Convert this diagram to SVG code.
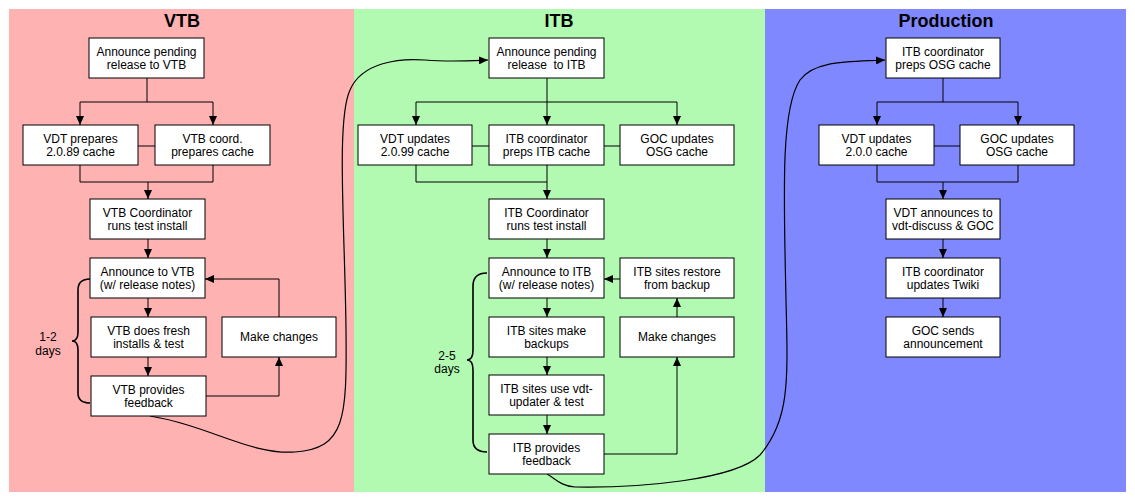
<svg xmlns="http://www.w3.org/2000/svg" width="1135" height="502" viewBox="0 0 1135 502">
<style>
.bx{fill:#fff;stroke:#000;stroke-width:1}
.t{font-family:"Liberation Sans",Arial,sans-serif;font-size:12px;fill:#000;text-anchor:middle}
.h{font-family:"Liberation Sans",Arial,sans-serif;font-size:18px;font-weight:bold;fill:#000;text-anchor:middle}
.ln{fill:none;stroke:#000;stroke-width:1}
.ar{fill:none;stroke:#000;stroke-width:1;marker-end:url(#ah)}
.cv{fill:none;stroke:#000;stroke-width:1.2;marker-end:url(#ah)}
.br{fill:none;stroke:#000;stroke-width:1.6}
</style>
<defs>
<marker id="ah" markerUnits="userSpaceOnUse" markerWidth="10" markerHeight="8" refX="9" refY="4" orient="auto">
<path d="M0,0 L9,4 L0,8 z" fill="#000"/>
</marker>
</defs>
<rect width="1135" height="502" fill="#fff"/>
<g id="lanes">
<rect x="9" y="9" width="345" height="483" fill="#ffb2b2"/>
<rect x="354" y="9" width="411" height="483" fill="#b2fab2"/>
<rect x="765" y="9" width="361" height="483" fill="#8088ff"/>
<text class="h" x="182" y="27">VTB</text>
<text class="h" x="559" y="27">ITB</text>
<text class="h" x="946" y="27">Production</text>
</g>
<g id="connectors">
<!-- VTB -->
<path class="ln" d="M147,78 V102 M80,102 H213"/>
<path class="ar" d="M80,102 V125"/>
<path class="ar" d="M213,102 V125"/>
<path class="ln" d="M138,146 H155"/>
<path class="ln" d="M80,165 V182 H213 V165"/>
<path class="ar" d="M148,182 V199"/>
<path class="ar" d="M148,239 V258"/>
<path class="ar" d="M148,298 V317"/>
<path class="ar" d="M148,357 V376"/>
<path class="ar" d="M206,396 H279 V357"/>
<path class="ar" d="M279,317 V279 H205"/>
<path class="br" d="M90,279 C82,279 78,282 78,290 L78,332 C78,338 76,341 72,341 C76,341 78,344 78,350 L78,393 C78,400 82,403 90,403"/>
<text class="t" x="48" y="341">1-2</text>
<text class="t" x="48" y="355">days</text>
<path class="cv" d="M150,416 C210,426 250,455 295,452 C345,448 347,420 346,330 C345,230 336,120 350,90 C362,62 400,58 425,60 C450,62 465,61 488,60"/>
<!-- ITB -->
<path class="ln" d="M547,78 V102 M416,102 H677"/>
<path class="ar" d="M416,102 V125"/>
<path class="ar" d="M547,102 V125"/>
<path class="ar" d="M677,102 V125"/>
<path class="ln" d="M472,146 H489 M604,146 H620"/>
<path class="ln" d="M416,165 V182 H547"/>
<path class="ar" d="M547,165 V199"/>
<path class="ar" d="M547,239 V258"/>
<path class="ar" d="M620,279 H604"/>
<path class="ar" d="M677,317 V298"/>
<path class="ar" d="M547,298 V317"/>
<path class="ar" d="M547,357 V375"/>
<path class="ar" d="M547,415 V434"/>
<path class="ar" d="M604,454 H677 V357"/>
<path class="br" d="M487,273 C479,273 473,276 473,286 L473,350 C473,357 471,360 467,360 C471,360 473,363 473,370 L473,440 C473,449 479,452 487,452"/>
<text class="t" x="447" y="360">2-5</text>
<text class="t" x="447" y="373">days</text>
<path class="cv" d="M547,474 C555,478 560,486 575,487 C640,488 735,480 760,455 C790,420 788,380 786,300 C784,200 780,110 800,80 C815,60 850,62 885,60"/>
<!-- Production -->
<path class="ln" d="M943,78 V102 M877,102 H1018"/>
<path class="ar" d="M877,102 V125"/>
<path class="ar" d="M1018,102 V125"/>
<path class="ln" d="M934,146 H960"/>
<path class="ln" d="M877,165 V182 H1018 V165"/>
<path class="ar" d="M943,182 V199"/>
<path class="ar" d="M943,239 V258"/>
<path class="ar" d="M943,298 V317"/>
</g>
<g id="v1"><rect class="bx" x="89" y="38" width="115" height="40"/><text class="t" x="146.5" y="55.5">Announce pending</text><text class="t" x="146.5" y="69">release to VTB</text></g>
<g id="v2"><rect class="bx" x="23" y="125" width="115" height="40"/><text class="t" x="80.5" y="142.5">VDT prepares</text><text class="t" x="80.5" y="156">2.0.89 cache</text></g>
<g id="v3"><rect class="bx" x="155" y="125" width="115" height="40"/><text class="t" x="212.5" y="142.5">VTB coord.</text><text class="t" x="212.5" y="156">prepares cache</text></g>
<g id="v4"><rect class="bx" x="90" y="199" width="115" height="40"/><text class="t" x="147.5" y="216.5">VTB Coordinator</text><text class="t" x="147.5" y="230">runs test install</text></g>
<g id="v5"><rect class="bx" x="90" y="258" width="115" height="40"/><text class="t" x="147.5" y="275.5">Announce to VTB</text><text class="t" x="147.5" y="289">(w/ release notes)</text></g>
<g id="v6"><rect class="bx" x="91" y="317" width="115" height="40"/><text class="t" x="148.5" y="334.5">VTB does fresh</text><text class="t" x="148.5" y="348">installs &amp; test</text></g>
<g id="v7"><rect class="bx" x="91" y="376" width="115" height="40"/><text class="t" x="148.5" y="393.5">VTB provides</text><text class="t" x="148.5" y="407">feedback</text></g>
<g id="v8"><rect class="bx" x="222" y="317" width="114" height="40"/><text class="t" x="279" y="341">Make changes</text></g>
<g id="i1"><rect class="bx" x="489" y="38" width="115" height="40"/><text class="t" x="546.5" y="55.5">Announce pending</text><text class="t" x="546.5" y="69" xml:space="preserve">release  to ITB</text></g>
<g id="i2"><rect class="bx" x="358" y="125" width="114" height="40"/><text class="t" x="415" y="142.5">VDT updates</text><text class="t" x="415" y="156">2.0.99 cache</text></g>
<g id="i3"><rect class="bx" x="489" y="125" width="115" height="40"/><text class="t" x="546.5" y="142.5">ITB coordinator</text><text class="t" x="546.5" y="156">preps ITB cache</text></g>
<g id="i4"><rect class="bx" x="620" y="125" width="114" height="40"/><text class="t" x="677" y="142.5">GOC updates</text><text class="t" x="677" y="156">OSG cache</text></g>
<g id="i5"><rect class="bx" x="489" y="199" width="115" height="40"/><text class="t" x="546.5" y="216.5">ITB Coordinator</text><text class="t" x="546.5" y="230">runs test install</text></g>
<g id="i6"><rect class="bx" x="489" y="258" width="115" height="40"/><text class="t" x="546.5" y="275.5">Announce to ITB</text><text class="t" x="546.5" y="289">(w/ release notes)</text></g>
<g id="i7"><rect class="bx" x="620" y="258" width="114" height="40"/><text class="t" x="677" y="275.5">ITB sites restore</text><text class="t" x="677" y="289">from backup</text></g>
<g id="i8"><rect class="bx" x="489" y="317" width="115" height="40"/><text class="t" x="546.5" y="334.5">ITB sites make</text><text class="t" x="546.5" y="348">backups</text></g>
<g id="i9"><rect class="bx" x="620" y="317" width="114" height="40"/><text class="t" x="677" y="341">Make changes</text></g>
<g id="i10"><rect class="bx" x="489" y="375" width="115" height="40"/><text class="t" x="546.5" y="392.5">ITB sites use vdt-</text><text class="t" x="546.5" y="406">updater &amp; test</text></g>
<g id="i11"><rect class="bx" x="489" y="434" width="115" height="40"/><text class="t" x="546.5" y="451.5">ITB provides</text><text class="t" x="546.5" y="465">feedback</text></g>
<g id="p1"><rect class="bx" x="886" y="38" width="114" height="40"/><text class="t" x="943" y="55.5">ITB coordinator</text><text class="t" x="943" y="69">preps OSG cache</text></g>
<g id="p2"><rect class="bx" x="819" y="125" width="115" height="40"/><text class="t" x="876.5" y="142.5">VDT updates</text><text class="t" x="876.5" y="156">2.0.0 cache</text></g>
<g id="p3"><rect class="bx" x="960" y="125" width="114" height="40"/><text class="t" x="1017" y="142.5">GOC updates</text><text class="t" x="1017" y="156">OSG cache</text></g>
<g id="p4"><rect class="bx" x="886" y="199" width="114" height="40"/><text class="t" x="943" y="216.5">VDT announces to</text><text class="t" x="943" y="230">vdt-discuss &amp; GOC</text></g>
<g id="p5"><rect class="bx" x="886" y="258" width="114" height="40"/><text class="t" x="943" y="275.5">ITB coordinator</text><text class="t" x="943" y="289">updates Twiki</text></g>
<g id="p6"><rect class="bx" x="886" y="317" width="114" height="40"/><text class="t" x="943" y="334.5">GOC sends</text><text class="t" x="943" y="348">announcement</text></g>
</svg>
